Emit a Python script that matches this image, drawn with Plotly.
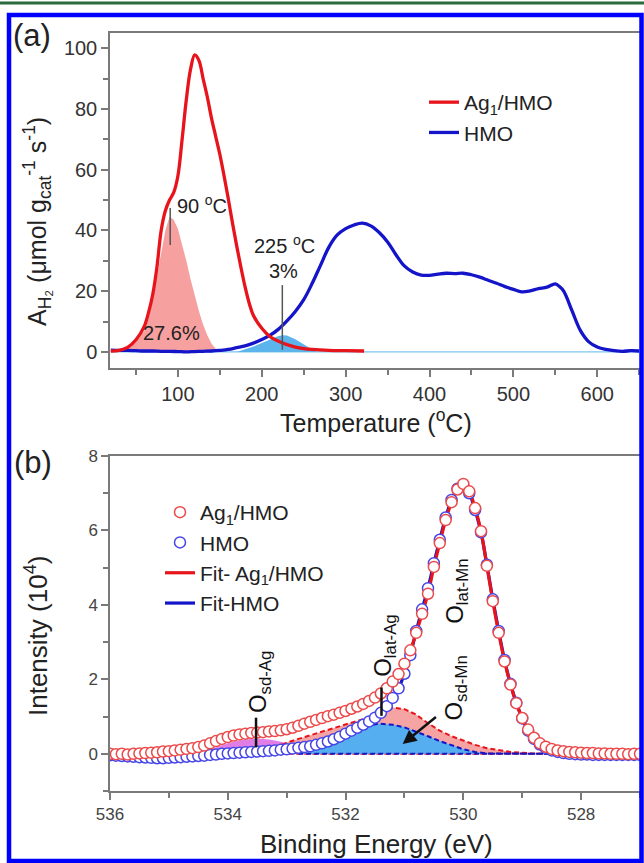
import plotly.graph_objects as go

# ---------------- Panel (a): H2-TPR ----------------
ag_T = [20, 30, 40, 50, 60, 65, 70, 75, 80, 85, 90, 95, 100, 105, 110, 115, 120, 125, 130, 135,
        140, 145, 150, 155, 160, 165, 170, 175, 180, 185, 190, 200, 210, 220, 230, 240, 250, 260,
        280, 300, 322]
ag_H2 = [0.3, 0.5, 1.5, 4.0, 8.5, 13.0, 19.0, 28.0, 40.0, 46.5, 50.0, 52.5, 58.0, 70.0, 83.0, 93.0,
         97.8, 96.0, 90.0, 84.0, 77.0, 71.0, 65.0, 58.0, 50.5, 42.5, 35.0, 28.0, 21.5, 16.0, 12.0,
         7.8, 5.0, 3.5, 2.4, 1.6, 1.1, 0.8, 0.5, 0.4, 0.3]

hmo_T = [20, 30, 40, 50, 60, 70, 80, 90, 100, 110, 120, 130, 140, 150, 160, 170, 180, 190, 200,
         210, 220, 230, 240, 250, 260, 270, 280, 290, 300, 310, 320, 330, 340, 350, 360, 370, 380,
         390, 400, 410, 420, 430, 440, 450, 460, 470, 480, 490, 500, 510, 520, 530, 540, 550, 555,
         560, 570, 580, 590, 600, 610, 620, 630, 640, 650]
hmo_H2 = [0.6, 0.5, 0.5, 0.4, 0.3, 0.3, 0.2, 0.2, 0.1, 0.0, 0.1, 0.2, 0.3, 0.5, 0.8, 1.4, 2.0, 2.9,
          4.1, 5.5, 7.5, 10.2, 13.3, 17.2, 22.5, 28.5, 34.5, 38.5, 40.6, 41.8, 42.4, 41.5, 39.3,
          36.2, 32.0, 28.3, 26.3, 25.3, 25.2, 25.6, 25.9, 25.8, 25.9, 25.4, 24.6, 23.6, 22.6, 21.5,
          20.6, 19.8, 20.1, 20.8, 21.3, 22.4, 21.5, 20.0, 13.5, 7.0, 3.3, 1.6, 0.8, 0.4, 0.2, 0.4, 0.3]

peak90_T = [30, 40, 50, 60, 65, 70, 75, 80, 85, 90, 95, 100, 105, 110, 115, 120, 125, 130, 135, 140, 145, 148]
peak90_H2 = [0.3, 1.2, 3.2, 7.0, 11.0, 17.0, 25.0, 33.0, 40.0, 44.5, 43.5, 40.5, 35.5, 30.0, 24.0,
             18.5, 13.5, 9.0, 5.5, 2.8, 0.8, 0.0]

peak225_T = [170, 180, 190, 200, 210, 220, 225, 230, 240, 250, 255, 260, 265]
peak225_H2 = [0.0, 0.8, 1.8, 2.9, 4.1, 5.2, 5.5, 5.4, 4.2, 2.5, 1.6, 0.8, 0.0]

baseline_T = [20, 650]
baseline_H2 = [0, 0]

# ---------------- Panel (b): O 1s XPS ----------------
be_eV = [536.0, 535.9, 535.8, 535.7, 535.6, 535.5, 535.4, 535.3, 535.2, 535.1,
         535.0, 534.9, 534.8, 534.7, 534.6, 534.5, 534.4, 534.3, 534.2, 534.1,
         534.0, 533.9, 533.8, 533.7, 533.6, 533.5, 533.4, 533.3, 533.2, 533.1,
         533.0, 532.9, 532.8, 532.7, 532.6, 532.5, 532.4, 532.3, 532.2, 532.1,
         532.0, 531.9, 531.8, 531.7, 531.6, 531.5, 531.4, 531.3, 531.2, 531.1,
         531.0, 530.9, 530.8, 530.7, 530.6, 530.5, 530.4, 530.3, 530.2, 530.1,
         530.0, 529.9, 529.8, 529.7, 529.6, 529.5, 529.4, 529.3, 529.2, 529.1,
         529.0, 528.9, 528.8, 528.7, 528.6, 528.5, 528.4, 528.3, 528.2, 528.1,
         528.0, 527.9, 527.8, 527.7, 527.6, 527.5, 527.4, 527.3, 527.2, 527.1, 527.0]
ag_int = [0.00, -0.01, 0.00, -0.02, 0.00, 0.01, 0.02, 0.03, 0.04, 0.06,
          0.07, 0.09, 0.11, 0.13, 0.15, 0.18, 0.22, 0.28, 0.34, 0.40,
          0.45, 0.49, 0.52, 0.54, 0.56, 0.57, 0.58, 0.60, 0.61, 0.63,
          0.66, 0.70, 0.75, 0.81, 0.86, 0.91, 0.96, 1.01, 1.05, 1.10,
          1.15, 1.21, 1.27, 1.34, 1.42, 1.51, 1.62, 1.76, 1.94, 2.14,
          2.42, 2.78, 3.25, 3.76, 4.30, 5.02, 5.66, 6.28, 6.76, 7.10,
          7.25, 7.05, 6.60, 5.98, 5.05, 4.10, 3.25, 2.48, 1.86, 1.36,
          0.96, 0.65, 0.43, 0.28, 0.19, 0.13, 0.09, 0.07, 0.05, 0.04,
          0.03, 0.02, 0.02, 0.01, 0.01, 0.00, 0.00, 0.00, -0.01, 0.00, 0.00]
hmo_int = [-0.04, -0.05, -0.06, -0.07, -0.08, -0.09, -0.10, -0.11, -0.12, -0.12,
           -0.11, -0.10, -0.09, -0.08, -0.07, -0.06, -0.05, -0.03, -0.02, 0.00,
           0.01, 0.02, 0.03, 0.04, 0.05, 0.06, 0.07, 0.08, 0.09, 0.11,
           0.12, 0.14, 0.16, 0.18, 0.20, 0.24, 0.28, 0.33, 0.39, 0.46,
           0.54, 0.62, 0.70, 0.78, 0.87, 0.97, 1.10, 1.28, 1.50, 1.76,
           2.15, 2.65, 3.30, 3.88, 4.45, 5.12, 5.75, 6.35, 6.82, 7.12,
           7.20, 7.00, 6.55, 5.95, 5.08, 4.15, 3.30, 2.52, 1.88, 1.37,
           0.95, 0.62, 0.40, 0.25, 0.15, 0.09, 0.05, 0.02, 0.00, -0.01,
           -0.02, -0.02, -0.03, -0.03, -0.03, -0.03, -0.03, -0.03, -0.03, -0.03, -0.03]

sdAg_eV = [534.6, 534.4, 534.2, 534.0, 533.8, 533.6, 533.4, 533.2, 533.0, 532.8, 532.6, 532.4]
sdAg_int = [0.0, 0.07, 0.17, 0.28, 0.36, 0.40, 0.40, 0.36, 0.28, 0.18, 0.09, 0.0]

latAg_eV = [533.2, 533.0, 532.8, 532.6, 532.4, 532.2, 532.0, 531.8, 531.6, 531.4, 531.2, 531.0,
            530.8, 530.6, 530.4, 530.2, 530.0, 529.8, 529.6, 529.4, 529.2, 529.0, 528.8, 528.5]
latAg_int = [0.15, 0.30, 0.40, 0.50, 0.60, 0.70, 0.80, 0.90, 0.98, 1.12, 1.24, 1.20,
             1.05, 0.82, 0.62, 0.47, 0.35, 0.24, 0.15, 0.09, 0.05, 0.03, 0.01, 0.0]

sdMn_eV = [532.8, 532.6, 532.4, 532.2, 532.0, 531.8, 531.6, 531.45, 531.2, 531.0, 530.8, 530.6,
           530.4, 530.2, 530.0, 529.8, 529.6, 528.5]
sdMn_int = [0.0, 0.10, 0.22, 0.35, 0.49, 0.63, 0.76, 0.81, 0.78, 0.71, 0.60, 0.47,
            0.34, 0.22, 0.12, 0.05, 0.01, 0.0]

FONT = "Liberation Sans, Arial, sans-serif"
RED = "#e8141c"
BLUE = "#1414c8"
W, H = 644, 863


def px_x(p):
    return p / W


def px_y(p):
    return 1 - p / H


fig = go.Figure()

# ---- panel (a) traces ----
fig.add_trace(go.Scatter(x=baseline_T, y=baseline_H2, mode="lines", line=dict(color="#7cc4f0", width=1.2),
                         showlegend=False, xaxis="x", yaxis="y", hoverinfo="skip"))
fig.add_trace(go.Scatter(x=peak90_T, y=peak90_H2, mode="lines", fill="tozeroy", fillcolor="#f6a0a0",
                         line=dict(width=0, color="#f6a0a0"), showlegend=False, xaxis="x", yaxis="y"))
fig.add_trace(go.Scatter(x=peak225_T, y=peak225_H2, mode="lines", fill="tozeroy", fillcolor="#5cb4ec",
                         line=dict(width=0, color="#5cb4ec"), showlegend=False, xaxis="x", yaxis="y"))
fig.add_trace(go.Scatter(x=hmo_T, y=hmo_H2, mode="lines", name="HMO", line=dict(color=BLUE, width=3.3),
                         line_shape="spline", xaxis="x", yaxis="y", legend="legend", legendgroup="a2",
                         legendrank=2))
fig.add_trace(go.Scatter(x=ag_T, y=ag_H2, mode="lines", name="Ag<sub>1</sub>/HMO", line=dict(color=RED, width=3.3),
                         line_shape="spline", xaxis="x", yaxis="y", legend="legend", legendgroup="a1",
                         legendrank=1))

# ---- panel (b) traces ----
fig.add_trace(go.Scatter(x=sdAg_eV, y=sdAg_int, mode="lines", fill="tozeroy", fillcolor="#e07ee6",
                         line=dict(width=0, color="#e07ee6"), line_shape="spline", showlegend=False,
                         xaxis="x2", yaxis="y2"))
fig.add_trace(go.Scatter(x=latAg_eV + [latAg_eV[0]], y=latAg_int + [0], mode="lines", fill="toself",
                         fillcolor="#f5a3a3", line=dict(color=RED, width=2, dash="5px,3px"),
                         showlegend=False, xaxis="x2", yaxis="y2"))
fig.add_trace(go.Scatter(x=sdMn_eV + [sdMn_eV[0]], y=sdMn_int + [sdMn_int[0]], mode="lines", fill="toself",
                         fillcolor="#55aef0", line=dict(color=BLUE, width=2, dash="5px,3px"),
                         showlegend=False, xaxis="x2", yaxis="y2"))
fig.add_trace(go.Scatter(x=be_eV, y=hmo_int, mode="lines", name="Fit-HMO", line=dict(color=BLUE, width=3.2),
                         line_shape="spline", xaxis="x2", yaxis="y2", legend="legend2", legendgroup="b4",
                         legendrank=4))
fig.add_trace(go.Scatter(x=be_eV, y=ag_int, mode="lines", name="Fit- Ag<sub>1</sub>/HMO",
                         line=dict(color=RED, width=3.2), line_shape="spline", xaxis="x2", yaxis="y2",
                         legend="legend2", legendgroup="b3", legendrank=3))
fig.add_trace(go.Scatter(x=be_eV, y=hmo_int, mode="markers", name="HMO",
                         marker=dict(symbol="circle", size=11, color="white", line=dict(color="#4646e6", width=1.5)),
                         xaxis="x2", yaxis="y2", legend="legend2", legendgroup="b2", legendrank=2))
fig.add_trace(go.Scatter(x=be_eV, y=ag_int, mode="markers", name="Ag<sub>1</sub>/HMO",
                         marker=dict(symbol="circle", size=11, color="white", line=dict(color="#ec4a4a", width=1.5)),
                         xaxis="x2", yaxis="y2", legend="legend2", legendgroup="b1", legendrank=1))

axis_common = dict(showline=True, linecolor="#7a7a7a", linewidth=1.5, mirror=True, ticks="outside",
                   ticklen=7, tickwidth=1.5, tickcolor="#7a7a7a", showgrid=False, zeroline=False,
                   automargin=False)

fig.update_layout(
    width=W, height=H, margin=dict(l=0, r=0, t=0, b=0),
    paper_bgcolor="white", plot_bgcolor="white", template="none",
    font=dict(family=FONT, color="#222"),
    xaxis=dict(domain=[px_x(110), px_x(640)], anchor="y", range=[19, 651], dtick=100, tick0=0,
               tickfont=dict(size=20, color="#333"),
               minor=dict(dtick=50, tick0=0, ticks="outside", ticklen=5, tickcolor="#7a7a7a", tickwidth=1.5),
               **axis_common),
    yaxis=dict(domain=[px_y(368), px_y(33)], anchor="x", range=[-5.3, 105], dtick=20, tick0=0,
               tickfont=dict(size=20, color="#333"),
               minor=dict(dtick=10, tick0=0, ticks="outside", ticklen=5, tickcolor="#7a7a7a", tickwidth=1.5),
               **axis_common),
    xaxis2=dict(domain=[px_x(110), px_x(640)], anchor="y2", range=[536, 527], dtick=2, tick0=0,
                tickfont=dict(size=17, color="#444"),
                minor=dict(dtick=1, tick0=0, ticks="outside", ticklen=5, tickcolor="#7a7a7a", tickwidth=1.5),
                **axis_common),
    yaxis2=dict(domain=[px_y(791), px_y(456)], anchor="x2", range=[-1, 8], dtick=2, tick0=0,
                tickfont=dict(size=17, color="#444"),
                minor=dict(dtick=1, tick0=0, ticks="outside", ticklen=5, tickcolor="#7a7a7a", tickwidth=1.5),
                **axis_common),
    legend=dict(x=px_x(424), y=px_y(82), xanchor="left", yanchor="top", bgcolor="rgba(0,0,0,0)",
                font=dict(size=21, family=FONT, color="#222"), tracegroupgap=8, traceorder="normal"),
    legend2=dict(x=px_x(160), y=px_y(492), xanchor="left", yanchor="top", bgcolor="rgba(0,0,0,0)",
                 font=dict(size=21, family=FONT, color="#222"), tracegroupgap=4, traceorder="normal"),
    showlegend=True,
)


def paper_text(text, x, y, size, angle=0, color="#222"):
    return dict(text=text, x=px_x(x), y=px_y(y), xref="paper", yref="paper", xanchor="center",
                yanchor="middle", showarrow=False, textangle=angle, font=dict(size=size, color=color))


def data_text(text, x, y, axx, axy, size, angle=0, xanchor="center", color="#222"):
    return dict(text=text, x=x, y=y, xref=axx, yref=axy, xanchor=xanchor, yanchor="middle",
                showarrow=False, textangle=angle, font=dict(size=size, color=color))


ann = [
    paper_text("(a)", 32, 36, 31),
    paper_text("(b)", 33, 462, 31),
    paper_text("Temperature (<sup>o</sup>C)", 376, 421, 25),
    paper_text("A<sub>H₂</sub> (μmol g<sub>cat</sub><sup>-1</sup> s<sup>-1</sup>)", 37, 222, 25, -90),
    paper_text("Binding Energy (eV)", 376, 844, 26),
    paper_text("Intensity (10<sup>4</sup>)", 36, 636, 26, -90),
    data_text("90 <sup>o</sup>C", 96, 48.5, "x", "y", 20, xanchor="left"),
    data_text("27.6%", 92.5, 6.3, "x", "y", 20),
    data_text("225 <sup>o</sup>C", 227, 35.5, "x", "y", 20),
    data_text("3%", 225.5, 26.7, "x", "y", 20),
    data_text("O<sub>sd-Ag</sub>", 533.45, 1.93, "x2", "y2", 24, -90, color="#111"),
    data_text("O<sub>lat-Ag</sub>", 531.33, 2.9, "x2", "y2", 24, -90, color="#111"),
    data_text("O<sub>lat-Mn</sub>", 530.13, 4.37, "x2", "y2", 24, -90, color="#111"),
    data_text("O<sub>sd-Mn</sub>", 530.13, 1.77, "x2", "y2", 24, -90, color="#111"),
    dict(text="", x=531.03, y=0.26, xref="x2", yref="y2", ax=530.44, ay=1.02, axref="x2", ayref="y2",
         showarrow=True, arrowhead=2, arrowsize=1.1, arrowwidth=2.5, arrowcolor="#111"),
]
fig.update_layout(annotations=ann)

shapes = [
    dict(type="line", xref="x", yref="y", x0=90.8, x1=90.8, y0=35.2, y1=47.4, line=dict(color="#555", width=1.5)),
    dict(type="line", xref="x", yref="y", x0=224.5, x1=224.5, y0=0.7, y1=22, line=dict(color="#555", width=1.5)),
    dict(type="line", xref="x2", yref="y2", x0=533.52, x1=533.52, y0=0.17, y1=0.97, line=dict(color="#111", width=2.5)),
    dict(type="line", xref="x2", yref="y2", x0=531.39, x1=531.39, y0=1.02, y1=1.78, line=dict(color="#111", width=2.5)),
    dict(type="line", xref="paper", yref="paper", x0=0, x1=1, y0=px_y(3), y1=px_y(3),
         line=dict(color="#2b6a3b", width=3)),
    dict(type="rect", xref="paper", yref="paper", x0=px_x(9), x1=px_x(641.5), y0=px_y(861), y1=px_y(15),
         line=dict(color="#0000ff", width=4.5)),
]
fig.update_layout(shapes=shapes)

fig.write_html("out.html")
